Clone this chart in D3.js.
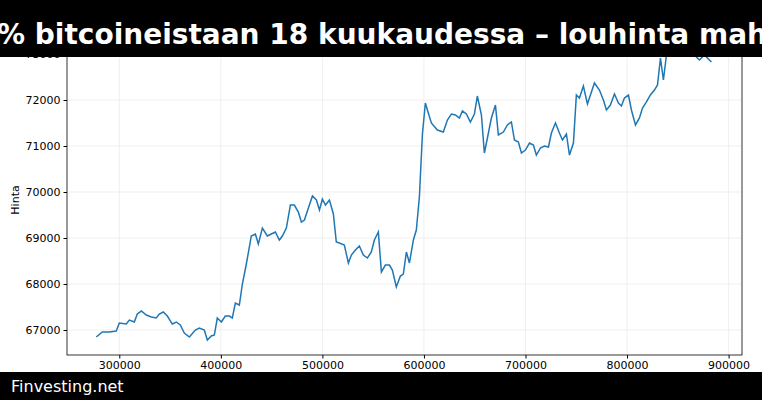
<!DOCTYPE html>
<html><head><meta charset="utf-8">
<script src="https://cdn.jsdelivr.net/npm/d3@7"></script>
<style>body{margin:0;background:#fff}svg{display:block;font-family:"DejaVu Sans",sans-serif}</style>
</head><body><svg id="chart" width="762" height="400"></svg>
<script>
const blockX = [277300,283300,290200,297000,300000,306900,309900,314800,317700,321700,326600,331500,336400,339400,343300,347300,352200,356100,360100,364000,369000,374900,378800,383700,386700,390600,393600,396500,400500,404400,408400,411300,414300,418200,421200,425100,430000,434000,436900,440900,445800,449700,453700,457600,460600,464500,468500,472400,476300,479300,482300,486200,490200,494100,497100,500000,503000,506900,510800,513700,516700,521600,525600,528500,532500,536400,540300,544300,548200,551200,555100,558100,562000,566000,568900,572800,576800,579700,582700,585700,589600,592500,595500,598500,601400,603400,607300,613200,619100,623100,627000,631000,634900,637900,641800,645700,649700,652600,656600,659500,662500,666400,670400,673300,678200,682200,686100,689100,693000,696000,699900,703900,707800,710700,714700,718600,722600,725500,729500,733400,736400,740300,743300,747200,750100,753100,757000,761000,767900,772800,776700,779700,783600,787600,791500,794500,797400,801400,804300,808300,812200,815200,819100,823000,827000,830000,832900,835800,838800,843700,851600,861500,868300,871300,876200,883100];
const price = [66848,66957,66957,66978,67152,67130,67217,67174,67348,67413,67326,67283,67261,67348,67391,67304,67130,67174,67109,66935,66848,67000,67043,67000,66783,66870,66891,67261,67174,67304,67304,67261,67587,67543,68000,68435,69044,69087,68870,69217,69044,69087,69130,68957,69044,69217,69717,69717,69565,69348,69391,69652,69913,69826,69609,69848,69717,69826,69522,68913,68891,68848,68457,68630,68739,68826,68630,68565,68696,68957,69130,68261,68413,68413,68304,67935,68174,68217,68696,68457,68957,69174,69891,71261,71935,71783,71500,71348,71304,71565,71696,71674,71609,71761,71696,71522,71696,72087,71674,70848,71174,71609,71891,71239,71304,71457,71522,71130,71087,70848,70913,71065,71022,70804,70957,71000,70978,71283,71500,71283,71130,71261,70804,71065,72109,72043,72304,71913,72370,72217,72000,71783,71891,72130,71935,71870,72043,72109,71783,71457,71609,71826,71957,72109,72217,72326,72913,72435,72978,73413,73522,73196,72935,72870,72978,72826];
const xTicks = [300000,400000,500000,600000,700000,800000,900000];
const yTicks = [67000,68000,69000,70000,71000,72000,73000];
const title = "% bitcoineistaan 18 kuukaudessa – louhinta mahdollisesti";

const svg = d3.select("#chart");
const m = {left: 67, right: 20, top: 31, bottom: 45};
const W = 762, H = 400;

const x = d3.scaleLinear().domain([248500, 913200]).range([m.left, W - m.right]);
const y = d3.scaleLinear().domain([66457, 73500]).range([H - m.bottom, m.top]);

// grid
svg.append("g").selectAll("line").data(xTicks).join("line")
  .attr("x1", d => x(d)).attr("x2", d => x(d)).attr("y1", m.top).attr("y2", H - m.bottom)
  .attr("stroke", "#ebebeb").attr("stroke-width", 0.8);
svg.append("g").selectAll("line").data(yTicks).join("line")
  .attr("x1", m.left).attr("x2", W - m.right).attr("y1", d => y(d)).attr("y2", d => y(d))
  .attr("stroke", "#ebebeb").attr("stroke-width", 0.8);

const pts = blockX.map((b, i) => [b, price[i]]);
svg.append("path").datum(pts)
  .attr("fill", "none").attr("stroke", "#1f77b4").attr("stroke-width", 1.5)
  .attr("d", d3.line().x(d => x(d[0])).y(d => y(d[1])));

svg.append("rect").attr("x", m.left).attr("y", m.top)
  .attr("width", W - m.right - m.left).attr("height", H - m.bottom - m.top)
  .attr("fill", "none").attr("stroke", "#000").attr("stroke-width", 0.8);

const ax = svg.append("g").attr("transform", `translate(0,${H - m.bottom})`)
  .call(d3.axisBottom(x).tickValues(xTicks).tickFormat(d3.format("d")).tickSize(3.5).tickPadding(3));
const ay = svg.append("g").attr("transform", `translate(${m.left},0)`)
  .call(d3.axisLeft(y).tickValues(yTicks).tickFormat(d3.format("d")).tickSize(3.5).tickPadding(3));
[ax, ay].forEach(a => {
  a.select(".domain").remove();
  a.selectAll("text").attr("font-size", 11).attr("fill", "#000").attr("font-family", "DejaVu Sans");
});

svg.append("text").attr("transform", "translate(19,200) rotate(-90)")
  .attr("text-anchor", "middle").attr("font-size", 11).text("Hinta");

// banners
svg.append("rect").attr("x", 0).attr("y", 0).attr("width", W).attr("height", 57).attr("fill", "#000");
svg.append("text").attr("x", -3).attr("y", 44).attr("fill", "#fff")
  .attr("font-size", 28).attr("font-weight", "bold").text(title);
svg.append("rect").attr("x", 0).attr("y", 372).attr("width", W).attr("height", 28).attr("fill", "#000");
svg.append("text").attr("x", 11).attr("y", 392).attr("fill", "#fff")
  .attr("font-size", 16).text("Finvesting.net");
</script></body></html>
